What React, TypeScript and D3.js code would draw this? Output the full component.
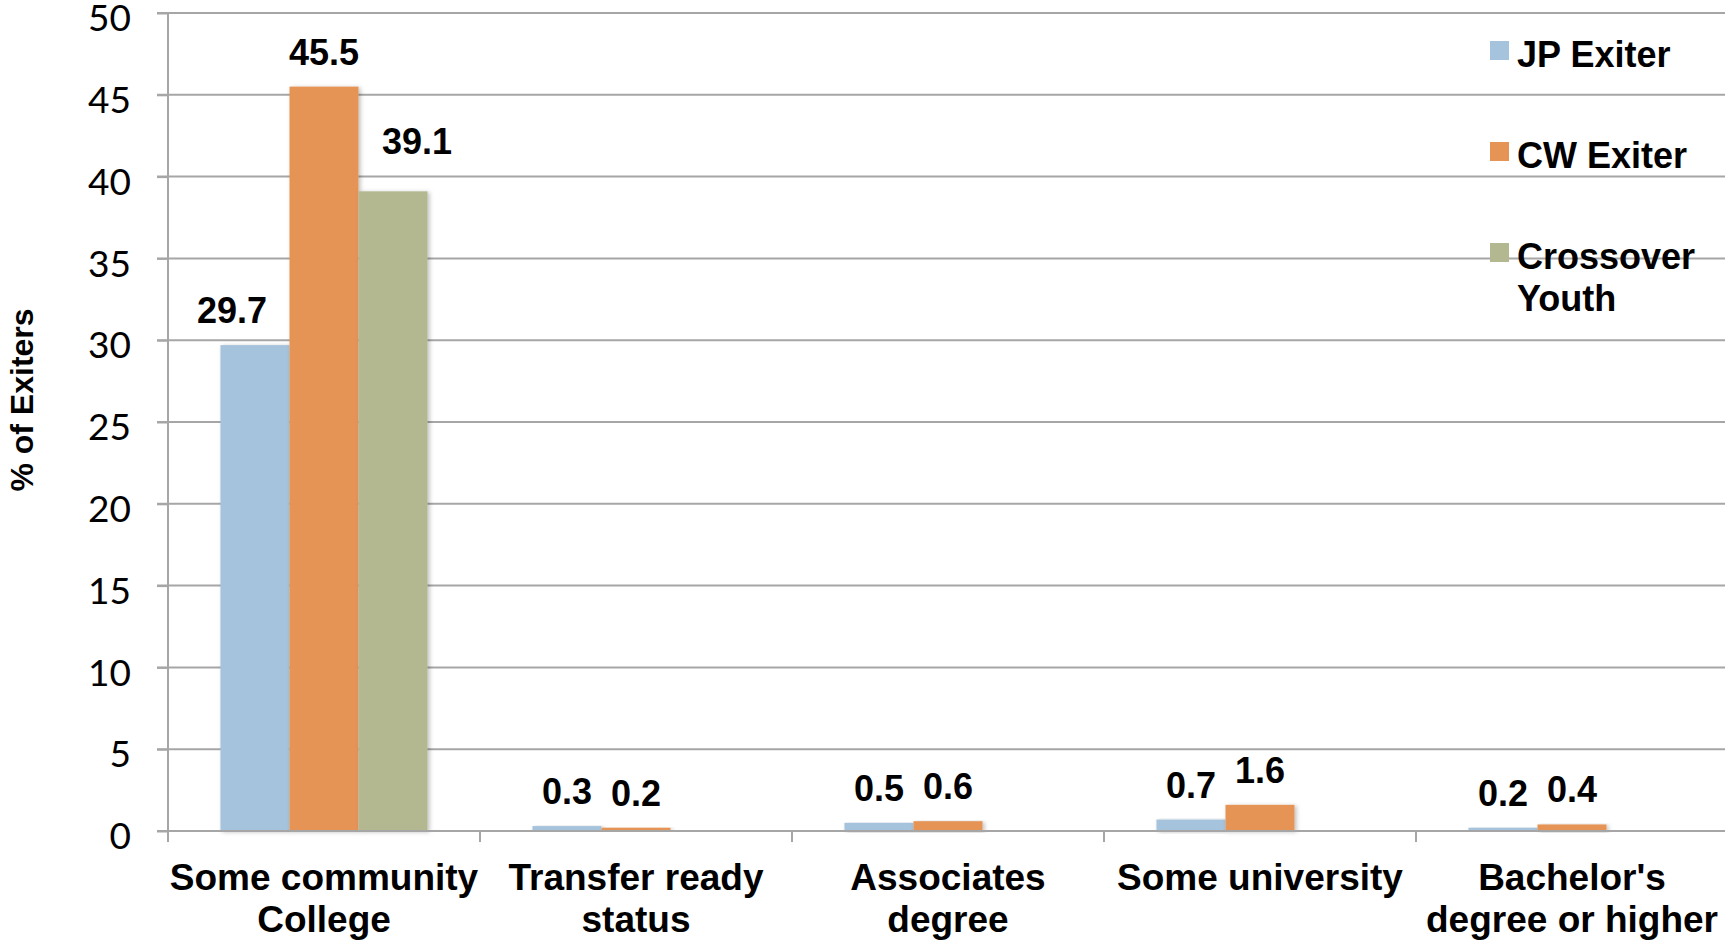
import * as React from "react";
import * as d3 from "d3";

const categories = [
  "Some community College",
  "Transfer ready status",
  "Associates degree",
  "Some university",
  "Bachelor's degree or higher",
];
const categoryLines = [
  ["Some community", "College"],
  ["Transfer ready", "status"],
  ["Associates", "degree"],
  ["Some university"],
  ["Bachelor's", "degree or higher"],
];
const seriesNames = ["JP Exiter", "CW Exiter", "Crossover Youth"];
const jpExiter = [29.7, 0.3, 0.5, 0.7, 0.2];
const cwExiter = [45.5, 0.2, 0.6, 1.6, 0.4];
const crossoverYouth: (number | null)[] = [39.1, null, null, null, null];
const yTicks = [0, 5, 10, 15, 20, 25, 30, 35, 40, 45, 50];

const colors = ["#a5c3dc", "#e59456", "#b3b891"];
const boldFont = "'Liberation Sans', Arial, Helvetica, sans-serif";
const tickFont = "Lato, 'Noto Sans', sans-serif";

// manual label nudges (Excel had these dragged around)
const nudges: Record<string, [number, number]> = {
  "0-0": [-23, 0],
  "0-2": [24, -15],
};

export default function App() {
  const ref = React.useRef<SVGSVGElement>(null);
  const W = 1725;
  const H = 945;
  const left = 168;
  const top = 13;
  const bottom = 831;

  React.useEffect(() => {
    const svg = d3.select(ref.current);
    svg.selectAll("*").remove();

    const y = d3.scaleLinear().domain([0, 50]).range([bottom, top]);
    const x = d3.scaleBand<string>().domain(categories).range([left, left + 312 * 5]).paddingInner(0).paddingOuter(0);
    const xs = d3.scaleBand<string>().domain(seriesNames).range([0, x.bandwidth()]).paddingInner(0).paddingOuter(0.76);

    const defs = svg.append("defs");
    const f = defs.append("filter").attr("id", "shadow").attr("x", "-10%").attr("y", "-10%").attr("width", "130%").attr("height", "130%");
    f.append("feDropShadow").attr("dx", 2).attr("dy", 1).attr("stdDeviation", 2).attr("flood-color", "#000").attr("flood-opacity", 0.25);

    // gridlines
    svg.append("g")
      .selectAll("line")
      .data(yTicks.filter((t) => t > 0))
      .join("line")
      .attr("x1", left - 11)
      .attr("x2", W)
      .attr("y1", (d) => y(d))
      .attr("y2", (d) => y(d))
      .attr("stroke", "#a6a6a6")
      .attr("stroke-width", 2);

    // y axis
    const yAxis = svg.append("g")
      .attr("transform", `translate(${left},0)`)
      .call(d3.axisLeft(y).tickValues(yTicks).tickSizeInner(11).tickSizeOuter(0).tickPadding(26));
    yAxis.select(".domain").remove();
    yAxis.selectAll(".tick line").attr("stroke", "#a6a6a6").attr("stroke-width", 2);
    yAxis.selectAll(".tick text")
      .attr("font-family", tickFont)
      .attr("font-size", 37)
      .attr("fill", "#000")
      .attr("dy", "0.48em");
    svg.append("line")
      .attr("x1", left).attr("x2", left)
      .attr("y1", top).attr("y2", bottom + 11)
      .attr("stroke", "#a6a6a6").attr("stroke-width", 2);

    // bars
    const series = [jpExiter, cwExiter, crossoverYouth];
    const barsG = svg.append("g");
    series.forEach((vals, si) => {
      const pts = categories.map((c, ci) => ({ c, ci, v: vals[ci] })).filter((d) => d.v != null) as { c: string; ci: number; v: number }[];
      barsG.append("g")
        .selectAll("rect")
        .data(pts)
        .join("rect")
        .attr("x", (d) => (x(d.c) as number) + (xs(seriesNames[si]) as number))
        .attr("width", xs.bandwidth())
        .attr("y", (d) => y(d.v))
        .attr("height", (d) => bottom - y(d.v))
        .attr("fill", colors[si])
        .attr("filter", "url(#shadow)");
    });

    // x axis line and ticks
    svg.append("line")
      .attr("x1", left - 11).attr("x2", W)
      .attr("y1", bottom).attr("y2", bottom)
      .attr("stroke", "#a6a6a6").attr("stroke-width", 2);
    svg.append("g")
      .selectAll("line")
      .data(categories.slice(1))
      .join("line")
      .attr("x1", (d) => x(d) as number)
      .attr("x2", (d) => x(d) as number)
      .attr("y1", bottom)
      .attr("y2", bottom + 11)
      .attr("stroke", "#a6a6a6").attr("stroke-width", 2);

    // data labels
    series.forEach((vals, si) => {
      categories.forEach((c, ci) => {
        const v = vals[ci];
        if (v == null) return;
        const n = nudges[`${ci}-${si}`] || [0, 0];
        svg.append("text")
          .attr("x", (x(c) as number) + (xs(seriesNames[si]) as number) + xs.bandwidth() / 2 + n[0])
          .attr("y", y(v) - 22 + n[1])
          .attr("text-anchor", "middle")
          .attr("font-family", boldFont)
          .attr("font-weight", "bold")
          .attr("font-size", 36)
          .attr("fill", "#000")
          .text(d3.format(".1f")(v));
      });
    });

    // category labels
    categories.forEach((c, ci) => {
      const t = svg.append("text")
        .attr("text-anchor", "middle")
        .attr("font-family", boldFont)
        .attr("font-weight", "bold")
        .attr("font-size", 37)
        .attr("fill", "#000");
      categoryLines[ci].forEach((line, li) => {
        t.append("tspan")
          .attr("x", (x(c) as number) + x.bandwidth() / 2)
          .attr("y", 890 + li * 42)
          .text(line);
      });
    });

    // y title
    svg.append("text")
      .attr("transform", `translate(33,${(top + bottom) / 2 - 22}) rotate(-90)`)
      .attr("text-anchor", "middle")
      .attr("font-family", boldFont)
      .attr("font-weight", "bold")
      .attr("font-size", 32)
      .attr("fill", "#000")
      .text("% of Exiters");

    // legend
    const legendLines = [["JP Exiter"], ["CW Exiter"], ["Crossover", "Youth"]];
    legendLines.forEach((lines, i) => {
      const g = svg.append("g").attr("transform", `translate(1490,${41 + i * 101})`);
      g.append("rect").attr("width", 19).attr("height", 19).attr("fill", colors[i]);
      const t = g.append("text")
        .attr("font-family", boldFont)
        .attr("font-weight", "bold")
        .attr("font-size", 36)
        .attr("fill", "#000");
      lines.forEach((l, li) => {
        t.append("tspan").attr("x", 27).attr("y", 26 + li * 42).text(l);
      });
    });
  }, []);

  return (
    <svg
      ref={ref}
      width={W}
      height={H}
      style={{ position: "absolute", left: 0, top: 0, background: "#fff" }}
    />
  );
}
